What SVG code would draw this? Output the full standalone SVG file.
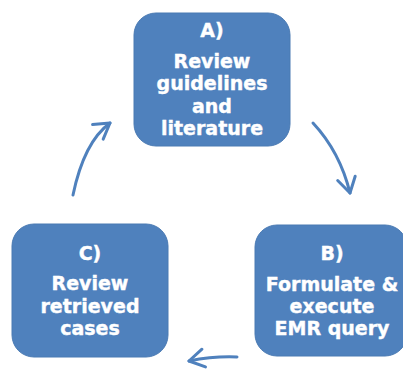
<svg xmlns="http://www.w3.org/2000/svg" width="403" height="369" viewBox="0 0 403 369">
<style>
.box{fill:#4f81bd;stroke:#4a7ab3;stroke-width:1}
.t{font-family:"DejaVu Sans",Verdana,sans-serif;font-weight:bold;font-size:19px;fill:#ffffff;stroke:#ffffff;stroke-width:0.4;text-anchor:middle}
.c{fill:none;stroke:#4f81bd;stroke-width:3;stroke-linecap:round}
</style>
<defs>
<marker id="ah" markerUnits="userSpaceOnUse" markerWidth="30" markerHeight="30" viewBox="-20 -15 30 30" refX="0" refY="0" orient="auto" overflow="visible">
<path d="M-15,-9 L0,0 L-15,9" fill="none" stroke="#4f81bd" stroke-width="3" stroke-linecap="round" stroke-linejoin="round"/>
</marker>
</defs>
<g id="connectors">
<path class="c" d="M313,123 Q340,152 350,193" marker-end="url(#ah)"/>
<path class="c" d="M237,357 Q214,356 189,361" marker-end="url(#ah)"/>
<path class="c" d="M73,195 Q84,142 110,123" marker-end="url(#ah)"/>
</g>
<g id="nodeA">
<rect class="box" x="134" y="13" width="156" height="133" rx="22"/>
<text class="t" x="212" y="37">A)</text>
<text class="t" x="212" y="68">Review</text>
<text class="t" x="212" y="90">guidelines</text>
<text class="t" x="212" y="113">and</text>
<text class="t" x="212" y="135">literature</text>
</g>
<g id="nodeB">
<rect class="box" x="255" y="225" width="152" height="131" rx="22"/>
<text class="t" x="332" y="260">B)</text>
<text class="t" x="332" y="291">Formulate &amp;</text>
<text class="t" x="332" y="313">execute</text>
<text class="t" x="332" y="335">EMR query</text>
</g>
<g id="nodeC">
<rect class="box" x="12" y="224" width="156" height="133" rx="22"/>
<text class="t" x="90" y="260">C)</text>
<text class="t" x="90" y="290">Review</text>
<text class="t" x="90" y="313">retrieved</text>
<text class="t" x="90" y="335">cases</text>
</g>
</svg>
